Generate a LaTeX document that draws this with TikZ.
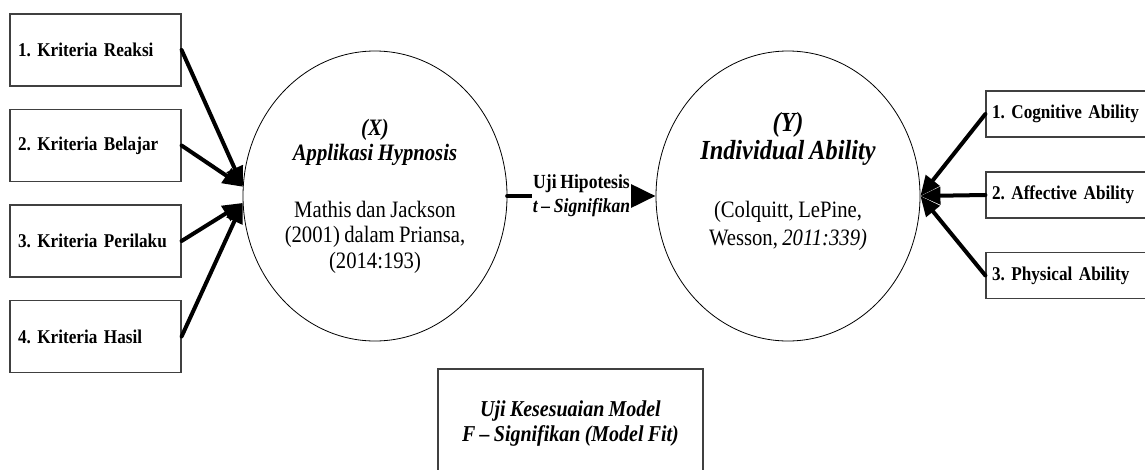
\documentclass[tikz,border=0pt]{standalone}
\usepackage{fontspec}
\setmainfont{Liberation Serif}[FakeStretch=0.88,WordSpace=0.85]
\frenchspacing
\usetikzlibrary{arrows.meta,positioning,calc,shapes.geometric}
\tikzset{
  criteria node/.style={
    rectangle,
    draw=black!75,
    fill=white,
    line width=1.2pt,
    minimum height=72pt,
    text width=155pt,
    inner xsep=8pt,
    align=left,
    font=\fontsize{19.5}{22}\selectfont\bfseries
  }
}
\tikzset{
  ability node/.style={
    rectangle,
    draw=black!75,
    fill=white,
    line width=1.2pt,
    minimum height=46pt,
    text width=152pt,
    inner xsep=6pt,
    align=left,
    font=\fontsize{19.5}{22}\selectfont\bfseries
  }
}
\tikzset{
  variable node/.style={
    ellipse,
    draw=black,
    fill=white,
    line width=0.8pt,
    minimum width=264pt,
    minimum height=290pt,
    inner sep=0pt,
    align=center,
    font=\fontsize{23.5}{25.5}\selectfont
  }
}
\tikzset{
  test node/.style={
    rectangle,
    draw=black!75,
    fill=white,
    line width=1.2pt,
    minimum width=265pt,
    minimum height=110pt,
    align=center,
    font=\fontsize{22.7}{25}\selectfont\bfseries\itshape
  }
}
\tikzset{
  indicator/.style={
    -{Triangle[length=20pt,width=17pt]},
    draw=black,
    line width=4pt,
    line cap=round
  }
}
\tikzset{
  hypothesis/.style={
    -{Triangle[length=25pt,width=23pt]},
    draw=black,
    line width=4.5pt,
    line cap=round
  }
}
\tikzset{
  hypothesis label/.style={
    fill=white,
    inner xsep=1pt,
    inner ysep=1pt,
    align=center,
    font=\fontsize{20}{24}\selectfont\bfseries
  }
}

\begin{document}
\begin{tikzpicture}[x=1pt,y=-1pt]

    \useasboundingbox (0,0) rectangle (1145,469);

    % ------------------------------------------------------------
    % Nodes
    % ------------------------------------------------------------

    \node[criteria node] (reaksi) at (95.5,50)
    {
      1. Kriteria Reaksi
    };

    \node[criteria node] (belajar) at (95.5,145.5)
    {
      2. Kriteria Belajar
    };

    \node[criteria node] (perilaku) at (95.5,241)
    {
      3. Kriteria Perilaku
    };

    \node[criteria node] (hasil) at (95.5,336.5)
    {
      4. Kriteria Hasil
    };

    \node[variable node] (hypnosis) at (375,196)
    {
      \textbf{\textit{(X)}}\\
      \textbf{\textit{Applikasi Hypnosis}}\\[31pt]
      Mathis dan Jackson\\
      (2001) dalam Priansa,\\
      (2014:193)
    };

    \node[variable node, font=\fontsize{23.5}{28}\selectfont] (ability) at (788,196)
    {
      {\fontsize{27.6}{28}\selectfont\textbf{\textit{(Y)}}}\\
      {\fontsize{27.6}{28}\selectfont\textbf{\textit{Individual Ability}}}\\[30pt]
      (Colquitt, LePine,\\
      Wesson, \textit{2011:339)}\\[6pt]
    };

    \node[ability node] (cognitive) at (1068,114)
    {
      1. Cognitive Ability
    };

    \node[ability node] (affective) at (1068,195)
    {
      2. Affective Ability
    };

    \node[ability node] (physical) at (1068,275.5)
    {
      3. Physical Ability
    };

    % Model fit test, cut by the lower edge
    \node[test node] (modelfit) at (570.5,424)
    {
      Uji Kesesuaian Model\\
      F -- Signifikan (Model Fit)
    };

    % ------------------------------------------------------------
    % Indicators of X
    % ------------------------------------------------------------

    \draw[indicator] (reaksi.east) -- (hypnosis.176);
    \draw[indicator] (belajar.east) -- (hypnosis.176);
    \draw[indicator] (perilaku.east) -- (hypnosis.183);
    \draw[indicator] (hasil.east) -- (hypnosis.183);

    % ------------------------------------------------------------
    % Indicators of Y
    % ------------------------------------------------------------

    \draw[indicator] (cognitive.west) -- (ability.east);
    \draw[indicator] (affective.west) -- (ability.east);
    \draw[indicator] (physical.west) -- (ability.east);

    % ------------------------------------------------------------
    % Hypothesis test
    % ------------------------------------------------------------

    \draw[hypothesis]
      (hypnosis.east)
      --
      node[
        hypothesis label,
        pos=0.50
      ] {Uji Hipotesis\\\textit{t -- Signifikan}}
      (ability.west);

\end{tikzpicture}
\end{document}
